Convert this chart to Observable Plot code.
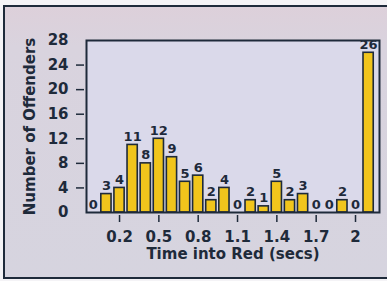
<!DOCTYPE html>
<html>
<head>
<meta charset="utf-8">
<script src="https://cdn.jsdelivr.net/npm/d3@7"></script>
<script src="https://cdn.jsdelivr.net/npm/@observablehq/plot@0.6"></script>
<style>
  html, body { margin: 0; padding: 0; background: #f4f3f6; overflow: hidden; }
  #wrap { position: relative; width: 387px; height: 281px; overflow: hidden; }
  #panel { position: absolute; left: 3px; top: 5px; width: 400px; height: 270px;
           border: 2px solid #1e2a3a; background: linear-gradient(#ddd0da 0px, #d9d3de 40px, #d6d4df 100%); }
  #chart { position: absolute; left: 0; top: 0; }
</style>
</head>
<body>
<div id="wrap"><div id="panel"></div><div id="chart"></div></div>
<script>
const times = [0, 0.1, 0.2, 0.3, 0.4, 0.5, 0.6, 0.7, 0.8, 0.9, 1.0, 1.1, 1.2, 1.3, 1.4, 1.5, 1.6, 1.7, 1.8, 1.9, 2.0, 2.1];
const counts = [0, 3, 4, 11, 8, 12, 9, 5, 6, 2, 4, 0, 2, 1, 5, 2, 3, 0, 0, 2, 0, 26];
const xTicks = [0.2, 0.5, 0.8, 1.1, 1.4, 1.7, 2];
const yTicks = [0, 4, 8, 12, 16, 20, 24, 28];
const yTickMarks = [4, 8, 12, 16, 20, 24];
const xTitle = "Time into Red (secs)";
const yTitle = "Number of Offenders";

const data = times.map((t, i) => ({t, n: counts[i]}));
const ink = "#1e2a3a";
const halfW = 0.039;

const chart = Plot.plot({
  width: 387, height: 281,
  marginLeft: 86, marginRight: 8, marginTop: 40, marginBottom: 69,
  x: {type: "linear", domain: [-0.052, 2.183]},
  y: {domain: [0, 28]},
  style: {fontFamily: "DejaVu Sans", fontWeight: "bold", fontSize: "15px", color: ink, background: "transparent", overflow: "visible"},
  marks: [
    Plot.frame({fill: "#dad9ea"}),
    Plot.text(data, {x: "t", y: "n", text: d => String(d.n), lineAnchor: "bottom", dy: -4, fontSize: 13, fill: ink}),
    Plot.rectY(data, {x1: d => d.t - halfW, x2: d => d.t + halfW, y1: 0, y2: "n", fill: "#f1c51c", stroke: ink, strokeWidth: 1.6}),
    Plot.frame({stroke: ink, strokeWidth: 2}),
    Plot.axisX(xTicks, {tickSize: 0, tickPadding: 19, tickFormat: d => String(d), label: null}),
    Plot.axisX(xTicks, {tickSize: 7, tickFormat: () => "", dy: 3, label: null, strokeWidth: 1.5}),
    Plot.axisY(yTicks, {tickSize: 0, tickPadding: 18, tickFormat: d => String(d), label: null}),
    Plot.axisY(yTickMarks, {tickSize: 8, tickFormat: () => "", dx: -2, label: null, strokeWidth: 1.5}),
    Plot.text([xTitle], {frameAnchor: "bottom", dy: 46, text: d => d, fontSize: 15, fill: ink}),
    Plot.text([yTitle], {frameAnchor: "left", dx: -56, rotate: -90, textAnchor: "middle", text: d => d, fontSize: 15, fill: ink})
  ]
});
document.getElementById("chart").appendChild(chart);
</script>
</body>
</html>
